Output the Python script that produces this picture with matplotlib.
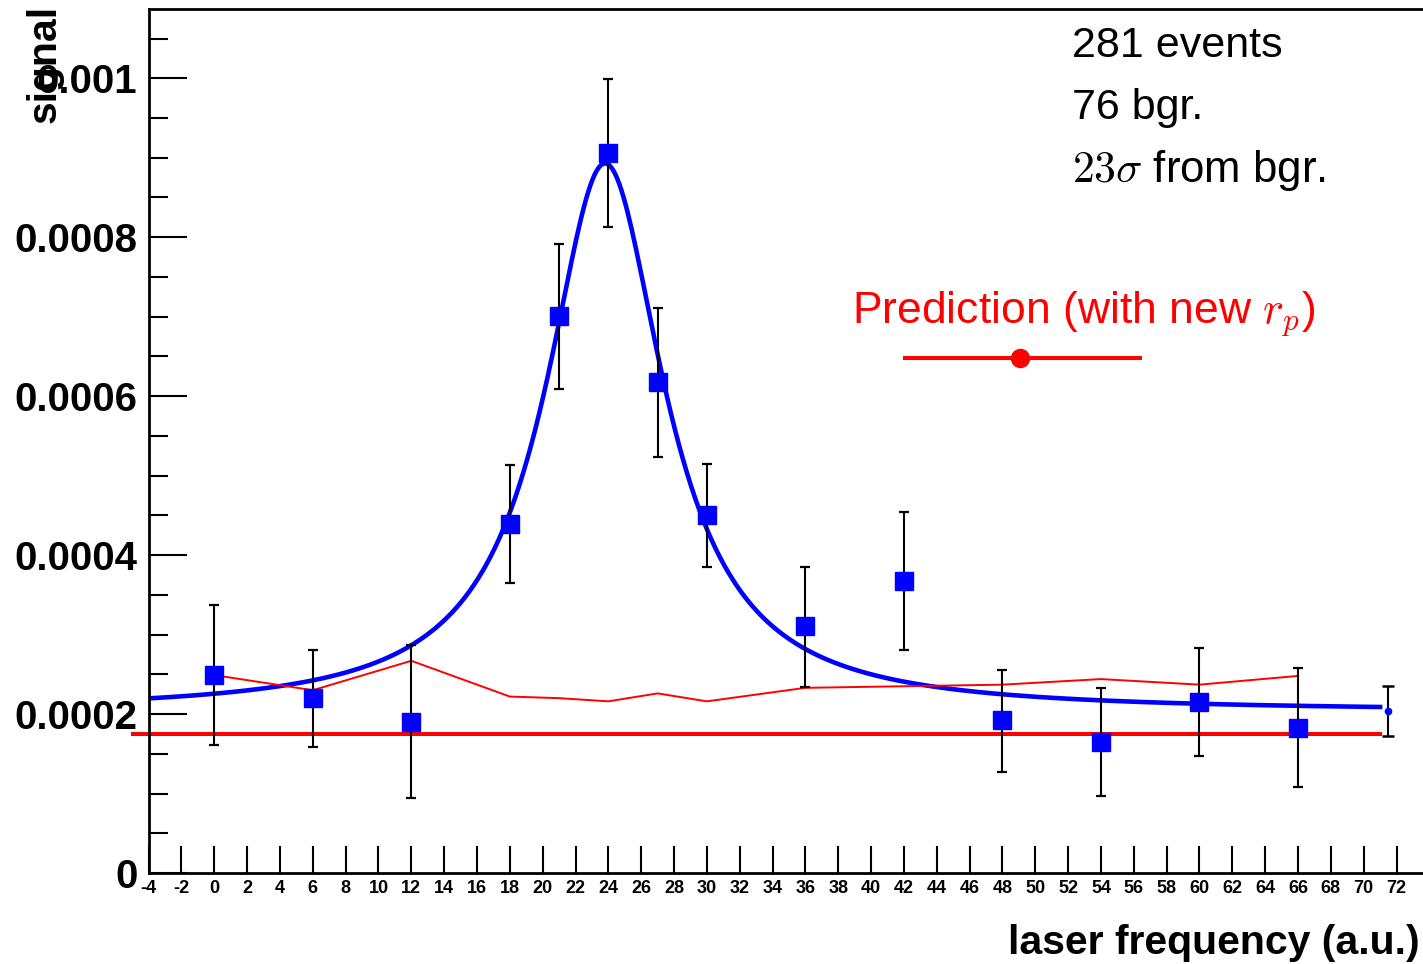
import numpy as np
import matplotlib
matplotlib.use('Agg')
import matplotlib.pyplot as plt
from matplotlib.ticker import MultipleLocator

plt.rcParams['font.family'] = ['Liberation Sans', 'DejaVu Sans']

# measured points (laser frequency, signal, error bar low/high)
freq = [0, 6, 12, 18, 21, 24, 27, 30, 36, 42, 48, 54, 60, 66]
signal = [0.000249, 0.000220, 0.000190, 0.000439, 0.000701, 0.000906, 0.000618,
          0.000450, 0.000311, 0.000367, 0.000193, 0.000165, 0.000215, 0.000182]
err_hi = [0.000337, 0.000281, 0.000287, 0.000513, 0.000791, 0.000999, 0.000711,
          0.000515, 0.000385, 0.000454, 0.000255, 0.000233, 0.000283, 0.000258]
err_lo = [0.000161, 0.000159, 0.0000944, 0.000365, 0.000609, 0.000813, 0.000523,
          0.000385, 0.000234, 0.000281, 0.000127, 0.0000969, 0.000147, 0.000108]

# background point at the far end
bg_freq = [71.5]
bg_signal = [0.000204]
bg_hi = [0.000235]
bg_lo = [0.000172]

# prediction (thin red line)
pred_signal = [0.000249, 0.000230, 0.000267, 0.000222, 0.000220, 0.000216, 0.000226,
               0.000216, 0.000233, 0.000235, 0.000237, 0.000244, 0.000237, 0.000248]

# flat background level
bg_level = 0.000175
bg_range = [-4.95, 71.0]

# Lorentzian fit parameters
fit_x0 = 23.8
fit_gamma = 4.38
fit_amp = 0.00069
fit_base = 0.000203
fit_range = [-4, 71.0]

W, H = 1423, 964
fig = plt.figure(figsize=(W / 100, H / 100), dpi=100)
x_left, x_right = -4, 76
ax = fig.add_axes([148.6 / W, 91 / H, (1462.2 - 148.6) / W, (873 - 9.3) / H])
ax.set_xlim(x_left, x_right)
ax.set_ylim(0, 0.0010868)

# fit curve
xf = np.linspace(fit_range[0], fit_range[1], 600)
yf = fit_base + fit_amp * fit_gamma ** 2 / ((xf - fit_x0) ** 2 + fit_gamma ** 2)
ax.plot(xf, yf, color='#0000ff', lw=3.3, zorder=2)

# background level
ax.plot(bg_range, [bg_level, bg_level], color='#ff0000', lw=2.9, clip_on=False, zorder=2)

# prediction line
ax.plot(freq, pred_signal, color='#ff0000', lw=1.4, zorder=2)

sig = np.array(signal)
yerr = [sig - np.array(err_lo), np.array(err_hi) - sig]
ax.errorbar(freq, signal, yerr=yerr, fmt='none', ecolor='black', elinewidth=1.5,
            capsize=3.5, capthick=1.6, zorder=3)
ax.plot(freq, signal, 's', color='#0000ff', ms=13, mec='#0000ff', zorder=4)

bsig = np.array(bg_signal)
ax.errorbar(bg_freq, bg_signal, yerr=[bsig - np.array(bg_lo), np.array(bg_hi) - bsig],
            fmt='o', color='#0000ff', ms=4.5, ecolor='black', elinewidth=1.5,
            capsize=4.4, capthick=1.8, zorder=4)

# axes styling
for s in ['left', 'bottom', 'top']:
    ax.spines[s].set_linewidth(2.0)
ax.spines['right'].set_visible(False)

ax.xaxis.set_major_locator(MultipleLocator(2))
ax.yaxis.set_major_locator(MultipleLocator(0.0002))
ax.yaxis.set_minor_locator(MultipleLocator(0.00005))
ax.set_xticks(np.arange(-4, 73, 2))
ax.set_xticklabels([str(v) for v in range(-4, 73, 2)])
ax.set_yticks([0, 0.0002, 0.0004, 0.0006, 0.0008, 0.001])
ax.set_yticklabels(['0', '0.0002', '0.0004', '0.0006', '0.0008', '0.001'])
ax.tick_params(axis='x', direction='in', length=19.4, width=1.5, pad=5,
               labelsize=13, top=False)
ax.tick_params(axis='y', which='major', direction='in', length=27.4, width=1.5, pad=8,
               labelsize=29)
ax.tick_params(axis='y', which='minor', direction='in', length=13.7, width=1.5)
for lab in ax.get_xticklabels() + ax.get_yticklabels():
    lab.set_fontweight('bold')

fig.text(45 / W, 1 - 5 / H, 'signal', rotation=90, ha='center', va='top',
         fontsize=29.5, fontweight='bold')
fig.text(1420 / W, 1 - 943 / H, 'laser frequency (a.u.)', ha='right', va='center',
         fontsize=29.5, fontweight='bold')

# annotations
fig.text(1072 / W, 1 - 57 / H, '281 events', ha='left', va='baseline', fontsize=31)
fig.text(1072 / W, 1 - 119 / H, '76 bgr.', ha='left', va='baseline', fontsize=31)
fig.text(1072 / W, 1 - 182 / H, r'$23\sigma$ from bgr.', ha='left', va='baseline',
         fontsize=31.5, math_fontfamily='cm')
fig.text(1084 / W, 1 - 323 / H, r'Prediction (with new $r_p$)', ha='center',
         va='baseline', fontsize=32, color='#ff0000', math_fontfamily='cm')

# legend sample line with dot
fig.add_artist(plt.Line2D([905 / W, 1140 / W], [1 - 358 / H, 1 - 358 / H],
                          transform=fig.transFigure, color='#ff0000', lw=2.9))
fig.add_artist(plt.Line2D([1020 / W], [1 - 358 / H], transform=fig.transFigure,
                          marker='o', color='#ff0000', ms=13, lw=0))

fig.savefig('out.png', dpi=100)
